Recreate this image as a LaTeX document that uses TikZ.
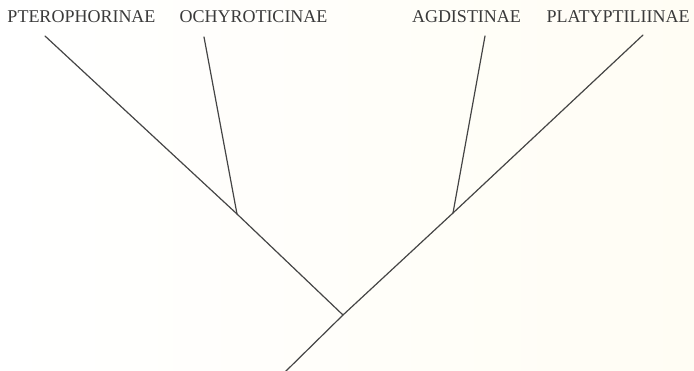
\documentclass[tikz,border=0pt]{standalone}
\usepackage{fontspec}
\setmainfont{Liberation Serif}
\usepackage{xcolor}
\usetikzlibrary{positioning}

\definecolor{branchgray}{HTML}{454545}
\definecolor{textgray}{HTML}{3A3A3A}
\definecolor{paper}{HTML}{FFFDF4}

\begin{document}
\begin{tikzpicture}[
        x=1pt, y=1pt,
        taxon/.style={inner sep=0pt, anchor=base, text=textgray,
            font=\fontsize{18}{20}\selectfont},
        branch/.style={draw=branchgray, line width=1.2pt, line cap=round},
    ]
        % paper
        \shade[left color=white, right color=paper] (0,0) rectangle (694,370);
        \useasboundingbox (0,0) rectangle (694,370);

        % taxa
        \node[taxon] (pter) at (81.5,347) {PTEROPHORINAE};
        \node[taxon] (ochy) at (253.5,347) {OCHYROTICINAE};
        \node[taxon] (agdi) at (466.5,347) {AGDISTINAE};
        \node[taxon] (platy) at (618,347) {PLATYPTILIINAE};

        % branch points
        \coordinate (root) at (285,-2);
        \coordinate (base) at (343,55);
        \coordinate (lnode) at (237,156);
        \coordinate (rnode) at (453,157);
        \coordinate (tpter) at (45,334);
        \coordinate (tochy) at (204,333);
        \coordinate (tagdi) at (485,334);
        \coordinate (tplaty) at (643,335);

        \draw[branch] (root) -- (base) -- (rnode) -- (tplaty);
        \draw[branch] (base) -- (lnode) -- (tpter);
        \draw[branch] (lnode) -- (tochy);
        \draw[branch] (rnode) -- (tagdi);
    \end{tikzpicture}
\end{document}
